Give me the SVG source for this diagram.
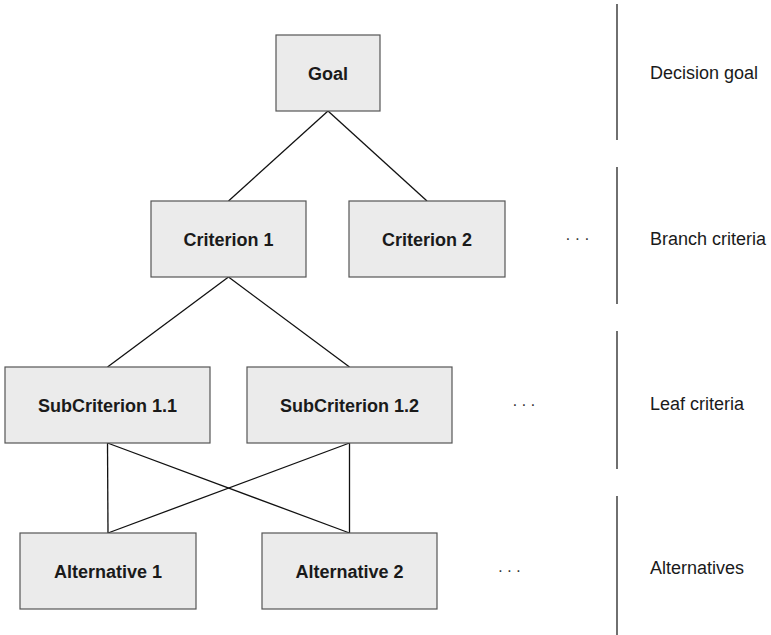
<svg xmlns="http://www.w3.org/2000/svg" width="771" height="635" viewBox="0 0 771 635">
  <style>
    .box { fill: #ebebeb; stroke: #555555; stroke-width: 1.2; }
    .lbl { font-family: "Liberation Sans", Arial, sans-serif; font-weight: bold; font-size: 18px; fill: #1a1a1a; text-anchor: middle; }
    .lvl { font-family: "Liberation Sans", Arial, sans-serif; font-size: 18px; fill: #1a1a1a; }
    .dots { font-family: "Liberation Sans", Arial, sans-serif; font-size: 16px; fill: #333333; text-anchor: middle; }
    .edge { stroke: #111111; stroke-width: 1.3; fill: none; }
    .sep { stroke: #222222; stroke-width: 1.3; }
  </style>
  <rect width="771" height="635" fill="#ffffff"/>

  <!-- connectors -->
  <g id="connectors" class="edge">
    <line x1="328" y1="111" x2="228.5" y2="201"/>
    <line x1="328" y1="111" x2="427" y2="201"/>
    <line x1="228.5" y1="277" x2="107.5" y2="367"/>
    <line x1="228.5" y1="277" x2="349.5" y2="367"/>
    <line x1="107.5" y1="443" x2="108" y2="533"/>
    <line x1="107.5" y1="443" x2="349.5" y2="533"/>
    <line x1="349.5" y1="443" x2="108" y2="533"/>
    <line x1="349.5" y1="443" x2="349.5" y2="533"/>
  </g>

  <!-- nodes -->
  <g id="goal">
    <rect class="box" x="276" y="35" width="104" height="76"/>
    <text class="lbl" x="328" y="79.5">Goal</text>
  </g>
  <g id="criterion1">
    <rect class="box" x="151" y="201" width="155" height="76"/>
    <text class="lbl" x="228.5" y="245.5">Criterion 1</text>
  </g>
  <g id="criterion2">
    <rect class="box" x="349" y="201" width="156" height="76"/>
    <text class="lbl" x="427" y="245.5">Criterion 2</text>
  </g>
  <g id="subcriterion11">
    <rect class="box" x="5" y="367" width="205" height="76"/>
    <text class="lbl" x="107.5" y="411.5">SubCriterion 1.1</text>
  </g>
  <g id="subcriterion12">
    <rect class="box" x="247" y="367" width="205" height="76"/>
    <text class="lbl" x="349.5" y="411.5">SubCriterion 1.2</text>
  </g>
  <g id="alternative1">
    <rect class="box" x="20" y="533" width="176" height="76"/>
    <text class="lbl" x="108" y="577.5">Alternative 1</text>
  </g>
  <g id="alternative2">
    <rect class="box" x="262" y="533" width="175" height="76"/>
    <text class="lbl" x="349.5" y="577.5">Alternative 2</text>
  </g>

  <!-- continuation dots -->
  <g id="ellipses">
    <text class="dots" x="568 577.5 587" y="244">···</text>
    <text class="dots" x="515 524 533" y="410">···</text>
    <text class="dots" x="500.5 509.5 518.5" y="576">···</text>
  </g>

  <!-- level separators and level names -->
  <g id="levels">
    <line class="sep" x1="617" y1="4" x2="617" y2="140"/>
    <line class="sep" x1="617" y1="167" x2="617" y2="304"/>
    <line class="sep" x1="617" y1="331" x2="617" y2="469"/>
    <line class="sep" x1="617" y1="496" x2="617" y2="635"/>
    <text class="lvl" x="650" y="79">Decision goal</text>
    <text class="lvl" x="650" y="245">Branch criteria</text>
    <text class="lvl" x="650" y="410">Leaf criteria</text>
    <text class="lvl" x="650" y="574">Alternatives</text>
  </g>
</svg>
